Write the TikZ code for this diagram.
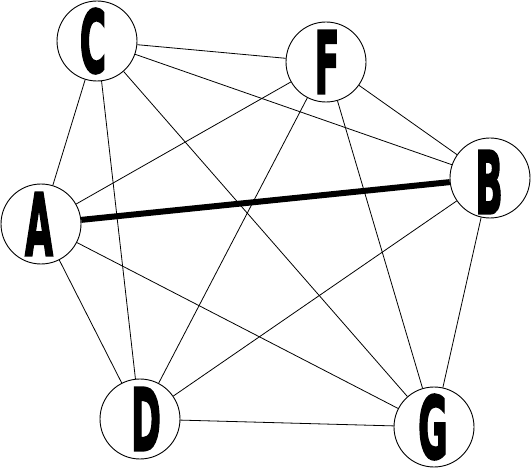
\documentclass[tikz,border=0pt]{standalone}
\usepackage{fontspec}
\newfontfamily\lblfont{DejaVu Sans}[FakeBold=3]
\begin{document}
\begin{tikzpicture}[x=1pt,y=-1pt,
  vert/.style={circle,draw,line width=0.9pt,minimum size=80pt,inner sep=0pt,fill=white},
  edge/.style={line width=0.8pt},
  heavy/.style={line width=6pt},
  lbl/.style={inner sep=0pt,font=\lblfont\bfseries\fontsize{86}{86}\selectfont}]
\useasboundingbox (0,0) rectangle (531,468);
\newcommand{\lt}[1]{\scalebox{0.42}[1]{#1}}
\node[vert] (C) at (97,41) {};
\node[vert] (F) at (326,62) {};
\node[vert] (B) at (490,178) {};
\node[vert] (A) at (41,224) {};
\node[vert] (D) at (140,419) {};
\node[vert] (G) at (434,427) {};
\draw[edge] (C) -- (F);
\draw[edge] (C) -- (B);
\draw[edge] (C) -- (A);
\draw[edge] (C) -- (D);
\draw[edge] (C) -- (G);
\draw[edge] (F) -- (A);
\draw[edge] (F) -- (D);
\draw[edge] (F) -- (G);
\draw[edge] (F) -- (B);
\draw[edge] (A) -- (D);
\draw[edge] (A) -- (G);
\draw[edge] (B) -- (D);
\draw[edge] (B) -- (G);
\draw[edge] (D) -- (G);
\draw[heavy] (A) -- (B);
\node[lbl] (lC) at ([xshift=-4pt]C) {\lt{C}};
\node[lbl] (lF) at ([xshift=1pt]F) {\lt{F}};
\node[lbl] (lB) at ([xshift=-1pt,yshift=-4pt]B) {\lt{B}};
\node[lbl] (lA) at ([xshift=-2pt]A) {\lt{A}};
\node[lbl] (lD) at ([xshift=6pt]D) {\lt{D}};
\node[lbl] (lG) at ([xshift=-1pt]G) {\lt{G}};
\end{tikzpicture}
\end{document}
